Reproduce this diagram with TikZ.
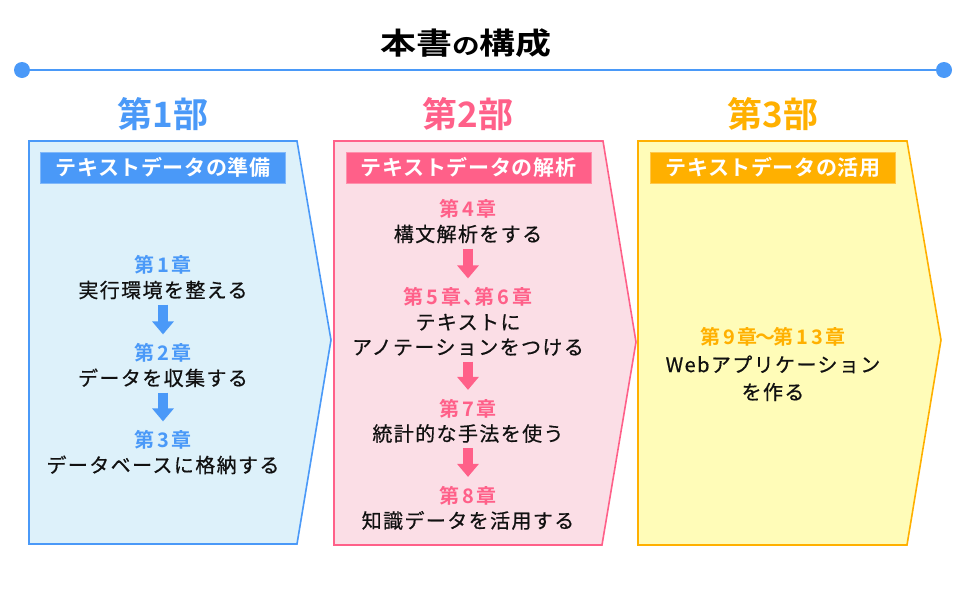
\documentclass[tikz,border=0pt]{standalone}
\usepackage{fontspec}
\usepackage{graphicx}
\usetikzlibrary{arrows.meta}
\setmainfont{Noto Sans CJK JP}
\newfontfamily\cjkr{Noto Sans CJK JP}[LetterSpace=7,FakeBold=0.6]
\newfontfamily\cjkb{Noto Sans CJK JP Bold}[LetterSpace=14]
\newfontfamily\cjkbar{Noto Sans CJK JP Bold}[LetterSpace=3]
\newfontfamily\cjkbold{Noto Sans CJK JP Bold}
\definecolor{cblue}{HTML}{4A99F8}
\definecolor{cbluefill}{HTML}{DDF1FA}
\definecolor{cpink}{HTML}{FF6089}
\definecolor{cpinkfill}{HTML}{FBDEE6}
\definecolor{corange}{HTML}{FFB000}
\definecolor{corangefill}{HTML}{FFFCB8}
\definecolor{ctext}{HTML}{111111}
\newcommand{\tightcomma}{、\kern-0.45em}
\tikzset{
  lbl/.style={font=\cjkb\fontsize{20}{20}\selectfont, inner sep=0pt, text height=17pt, text depth=1.8pt},
  desc/.style={font=\cjkr\fontsize{20}{20}\selectfont, text=ctext, inner sep=0pt, text height=17pt, text depth=1.8pt},
  darrow/.style={line width=10pt, -{Triangle[width=21pt 0,length=13pt 0]}, shorten <=5pt, shorten >=9pt},
  parthead/.style={font=\cjkbold\fontsize{35}{35}\selectfont, inner sep=0pt},
  hbar/.style={font=\cjkbar\fontsize{21}{21}\selectfont, text=white, inner sep=0pt, minimum height=31pt, minimum width=245pt, line width=0.8pt},
  panel/.style={line width=1.6pt},
  dot/.style={circle, fill=cblue, inner sep=0pt, minimum size=16pt}
}
\begin{document}
\begin{tikzpicture}[x=1pt,y=-1pt]
\useasboundingbox[fill=white] (0,0) rectangle (970,600);
% title
\node[inner sep=0pt] (title) at (466,43.5) {\scalebox{1.2}[1]{\cjkbold\fontsize{30}{30}\selectfont 本書{\fontsize{23}{23}\selectfont の}構成}};
\node[dot] (dl) at (22,70) {};
\node[dot] (dr) at (944,70) {};
\draw[cblue, line width=2pt] (dl) -- (dr);
% panels
\draw[panel, draw=cblue, fill=cbluefill] (29,141) -- (297,141) -- (331,340) -- (297,544) -- (29,544) -- cycle;
\draw[panel, draw=cpink, fill=cpinkfill] (334,141) -- (603,141) -- (636,342) -- (602,545) -- (334,545) -- cycle;
\draw[panel, draw=corange, fill=corangefill] (638,141) -- (907,141) -- (941,340) -- (907,545) -- (638,545) -- cycle;
% part headings
\node[parthead, text=cblue] (p1) at (163,114) {第1部};
\node[parthead, text=cpink] (p2) at (468,114) {第2部};
\node[parthead, text=corange] (p3) at (773,114) {第3部};
% header bars
\node[hbar, fill=cblue, draw=cblue!70] (h1) at (163,167.5) {テキストデータの準備};
\node[hbar, fill=cpink, draw=cpink!70] (h2) at (468.5,167.5) {テキストデータの解析};
\node[hbar, fill=corange, draw=corange!70] (h3) at (773,167.5) {テキストデータの活用};
% panel 1
\node[lbl, text=cblue] (l1) at (163,265) {第1章};
\node[desc] (d1) at (163,290) {実行環境を整える};
\node[lbl, text=cblue] (l2) at (163,353) {第2章};
\node[desc] (d2) at (163,378) {データを収集する};
\node[lbl, text=cblue] (l3) at (163,440) {第3章};
\node[desc] (d3) at (163,465) {データベースに格納する};
\draw[darrow, cblue] (d1) -- (l2);
\draw[darrow, cblue] (d2) -- (l3);
% panel 2
\node[lbl, text=cpink] (l4) at (468,209) {第4章};
\node[desc] (d4) at (468,234) {構文解析をする};
\node[lbl, text=cpink] (l5) at (468,297) {第5章\tightcomma 第6章};
\node[desc] (d5a) at (468,322) {テキストに};
\node[desc] (d5b) at (468,347) {アノテーションをつける};
\node[lbl, text=cpink] (l7) at (468,408.5) {第7章};
\node[desc] (d7) at (468,433.5) {統計的な手法を使う};
\node[lbl, text=cpink] (l8) at (468,495.5) {第8章};
\node[desc] (d8) at (468,520.5) {知識データを活用する};
\draw[darrow, cpink] (d4) -- (l5);
\draw[darrow, cpink] (d5b) -- (l7);
\draw[darrow, cpink] (d7) -- (l8);
% panel 3
\node[lbl, text=corange] (l9) at (773,337) {第9章\kern-0.1em〜\kern-0.1em第13章};
\node[desc] (d9a) at (773,364.5) {Webアプリケーション};
\node[desc] (d9b) at (773,392) {を作る};
\end{tikzpicture}
\end{document}
